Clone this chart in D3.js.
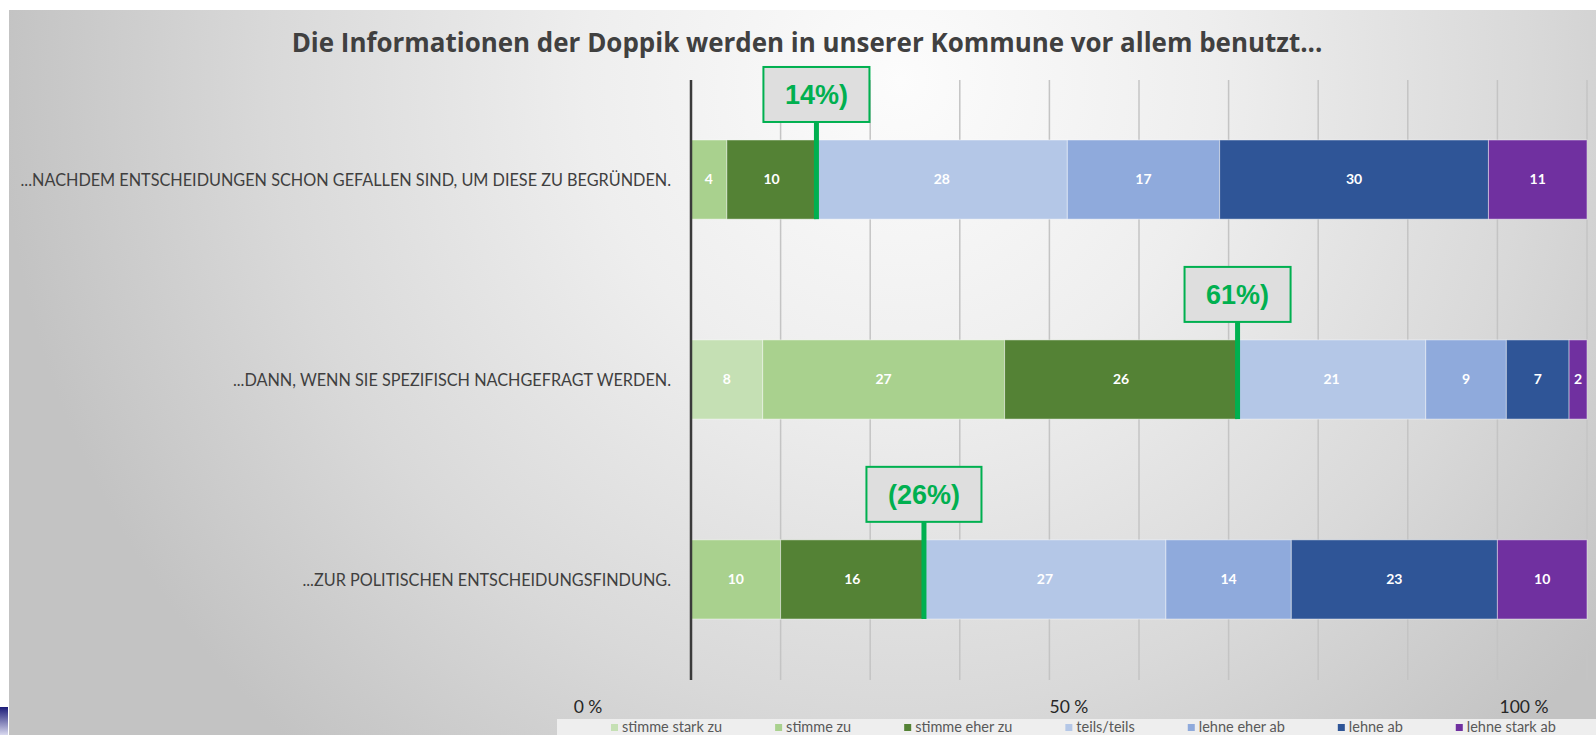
<!DOCTYPE html>
<html>
<head>
<meta charset="utf-8">
<script src="https://cdn.jsdelivr.net/npm/d3@7/dist/d3.min.js"></script>
<style>
  html, body { margin: 0; padding: 0; background: #fff; }
  svg { display: block; }
</style>
</head>
<body>
<div id="chart"></div>
<script>
'use strict';

// ---- data ----------------------------------------------------------------
const categories = [
    '...NACHDEM ENTSCHEIDUNGEN SCHON GEFALLEN SIND, UM DIESE ZU BEGRÜNDEN.',
    '...DANN, WENN SIE SPEZIFISCH NACHGEFRAGT WERDEN.',
    '...ZUR POLITISCHEN ENTSCHEIDUNGSFINDUNG.'
];
const seriesNames = ['stimme stark zu', 'stimme zu', 'stimme eher zu', 'teils/teils', 'lehne eher ab', 'lehne ab', 'lehne stark ab'];
const stimmeStarkZu = [0, 8, 0];
const stimmeZu      = [4, 27, 10];
const stimmeEherZu  = [10, 26, 16];
const teilsTeils    = [28, 21, 27];
const lehneEherAb   = [17, 9, 14];
const lehneAb       = [30, 7, 23];
const lehneStarkAb  = [11, 2, 10];
const markerLabels  = ['14%)', '61%)', '(26%)'];   // share of agreement, as written on the slide
const tickValues    = [0, 50, 100];
const tickLabels    = ['0 %', '50 %', '100 %'];

const colors = ['#c5e0b4', '#a9d18e', '#548235', '#b4c7e7', '#8faadc', '#2f5597', '#7030a0'];
const titleText = 'Die Informationen der Doppik werden in unserer Kommune vor allem benutzt...';

const seriesValues = [stimmeStarkZu, stimmeZu, stimmeEherZu, teilsTeils, lehneEherAb, lehneAb, lehneStarkAb];
const rows = categories.map((c, i) => {
    const r = { name: c };
    seriesNames.forEach((s, j) => { r[s] = seriesValues[j][i]; });
    return r;
});

// ---- layout --------------------------------------------------------------
const width = 1596, height = 735;
const plotLeft = 691, plotRight = 1587, plotTop = 80, plotBottom = 679;

const svg = d3.select('#chart').append('svg')
    .attr('width', width).attr('height', height);

const defs = svg.append('defs');
const bg = defs.append('radialGradient').attr('id', 'bg')
    .attr('gradientUnits', 'userSpaceOnUse')
    .attr('cx', 900).attr('cy', 80).attr('r', 900);
bg.append('stop').attr('offset', 0).attr('stop-color', '#fcfcfc');
bg.append('stop').attr('offset', 0.35).attr('stop-color', '#eeeeee');
bg.append('stop').attr('offset', 0.7).attr('stop-color', '#d9d9d9');
bg.append('stop').attr('offset', 1).attr('stop-color', '#c3c3c3');

const logo = defs.append('linearGradient').attr('id', 'logo').attr('x1', 0).attr('y1', 0).attr('x2', 0).attr('y2', 1);
logo.append('stop').attr('offset', 0).attr('stop-color', '#1c1c78');
logo.append('stop').attr('offset', 1).attr('stop-color', '#d8d8ee');

svg.append('rect').attr('x', 9).attr('y', 10).attr('width', width - 9).attr('height', height - 10).attr('fill', 'url(#bg)');
svg.append('rect').attr('x', 0).attr('y', 707).attr('width', 8).attr('height', 28).attr('fill', 'url(#logo)');

// scales
const x = d3.scaleLinear().domain([0, 100]).range([plotLeft, plotRight]);
const xLabel = d3.scaleLinear().domain([0, 50, 100]).range([588, 1069, 1524]); // tick text is shifted on the slide
const y = d3.scaleBand().domain(categories).range([plotTop, plotBottom]).paddingInner(0.604).paddingOuter(0.3);

// gridlines
svg.append('g').selectAll('line')
    .data(d3.range(10, 101, 10))
    .enter().append('line')
    .attr('x1', d => x(d)).attr('x2', d => x(d))
    .attr('y1', plotTop).attr('y2', plotBottom + 1)
    .attr('stroke', '#c4c4c4').attr('stroke-width', 1.5);

// stacked bars
const stack = d3.stack().keys(seriesNames);
const stacked = stack(rows);

const layers = svg.append('g').selectAll('g.layer')
    .data(stacked)
    .enter().append('g').attr('class', 'layer')
    .attr('fill', (d, i) => colors[i]);

layers.selectAll('rect')
    .data(d => d)
    .enter().append('rect')
    .attr('x', d => x(d[0]))
    .attr('y', d => y(d.data.name))
    .attr('width', d => x(d[1]) - x(d[0]))
    .attr('height', y.bandwidth())
    .attr('stroke', 'rgba(255,255,255,0.45)')
    .attr('stroke-width', 1);

layers.selectAll('text')
    .data(d => d.filter(s => s[1] - s[0] > 0))
    .enter().append('text')
    .attr('x', d => (x(d[0]) + x(d[1])) / 2)
    .attr('y', d => y(d.data.name) + y.bandwidth() / 2)
    .attr('dy', '0.35em')
    .attr('text-anchor', 'middle')
    .attr('fill', '#ffffff')
    .style('font-family', 'Lato, "Open Sans", sans-serif')
    .style('font-weight', 'bold')
    .style('font-size', '14px')
    .text(d => d[1] - d[0]);

// axis line at 0 %
svg.append('line')
    .attr('x1', x(0)).attr('x2', x(0))
    .attr('y1', plotTop).attr('y2', plotBottom + 1)
    .attr('stroke', '#3a3a3a').attr('stroke-width', 2.5);

// category labels: a bit condensed, like the Calibri on the slide
const catGroups = svg.append('g').selectAll('g')
    .data(categories)
    .enter().append('g');
const catLabels = catGroups.append('text')
    .attr('x', 0).attr('y', 0)
    .attr('dy', '0.36em')
    .attr('text-anchor', 'end')
    .attr('fill', '#3f3f3f')
    .style('font-family', 'Lato, "Open Sans", sans-serif')
    .style('font-size', '17.5px')
    .text(d => d);
const squeeze = 651 / catLabels.node().getComputedTextLength();
catGroups.attr('transform', d => `translate(671, ${ y(d) + y.bandwidth() / 2 }) scale(${ squeeze }, 1)`);

// tick labels
svg.append('g').selectAll('text')
    .data(tickValues)
    .enter().append('text')
    .attr('x', d => xLabel(d))
    .attr('y', 713)
    .attr('text-anchor', 'middle')
    .attr('fill', '#262626')
    .style('font-family', 'Lato, "Open Sans", sans-serif')
    .style('font-size', '17.5px')
    .text((d, i) => tickLabels[i]);

// marker for the cumulative agreement
const stimmeIdx = seriesNames.indexOf('stimme eher zu');
const markers = svg.append('g').selectAll('g')
    .data(stacked[stimmeIdx])
    .enter().append('g');

markers.each(function(d, i) {
    const g = d3.select(this);
    const cx = x(d[1]);
    const top = y(d.data.name);
    g.append('line')
        .attr('x1', cx).attr('x2', cx)
        .attr('y1', top - 19).attr('y2', top + y.bandwidth())
        .attr('stroke', '#00b050').attr('stroke-width', 5);
    const box = g.append('rect').attr('fill', '#dedede').attr('stroke', '#00b050').attr('stroke-width', 2);
    const t = g.append('text')
        .attr('x', cx).attr('y', top - 45.5)
        .attr('dy', '0.35em')
        .attr('text-anchor', 'middle')
        .attr('fill', '#00b050')
        .style('font-family', '"Liberation Sans", Arial, sans-serif')
        .style('font-weight', 'bold')
        .style('font-size', '27px')
        .text(markerLabels[i]);
    const w = t.node().getComputedTextLength() + 43;
    box.attr('x', cx - w / 2).attr('y', top - 73).attr('width', w).attr('height', 55);
});

// title
const title = svg.append('text')
    .attr('x', 807).attr('y', 52)
    .attr('text-anchor', 'middle')
    .attr('fill', '#404040')
    .style('font-family', '"Open Sans", sans-serif')
    .style('font-weight', 'bold')
    .style('font-size', '26px')
    .text(titleText);
const tw = title.node().getComputedTextLength();
title.style('font-size', (26 * 1031 / tw) + 'px');

// legend
svg.append('rect').attr('x', 557).attr('y', 719).attr('width', width - 557).attr('height', 16).attr('fill', '#eeeeee');
const legend = svg.append('g').attr('class', 'legend');
let lx = 611;
seriesNames.forEach(function(name, i) {
    legend.append('rect')
        .attr('x', lx).attr('y', 724).attr('width', 7).attr('height', 7)
        .attr('fill', colors[i]);
    const lt = legend.append('text')
        .attr('x', lx + 11).attr('y', 732)
        .attr('fill', '#595959')
        .style('font-family', 'Lato, "Open Sans", sans-serif')
        .style('font-size', '14.5px')
        .text(name);
    lx += 11 + lt.node().getComputedTextLength() + 53;
});
</script>
</body>
</html>
